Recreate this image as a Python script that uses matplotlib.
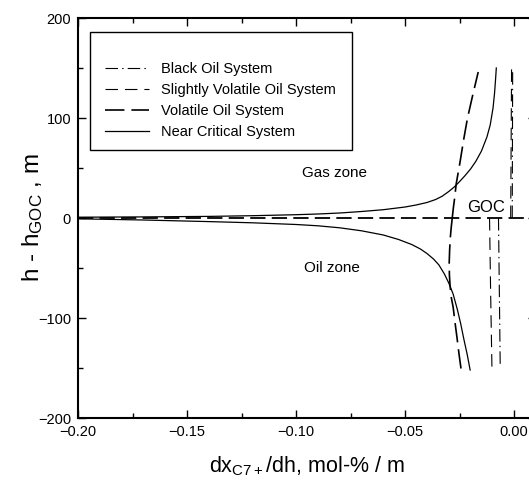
import matplotlib
matplotlib.use("Agg")
import matplotlib.pyplot as plt
from matplotlib.lines import Line2D
from matplotlib.patches import Rectangle
from matplotlib.ticker import MultipleLocator

plt.rcParams['font.family'] = ['Liberation Sans', 'DejaVu Sans']
plt.rcParams['mathtext.fontset'] = 'custom'
plt.rcParams['mathtext.rm'] = 'Liberation Sans'
plt.rcParams['mathtext.it'] = 'Liberation Sans'
plt.rcParams['lines.scale_dashes'] = False

# ── data (x: dx/dh mol-%/m, h: h - hGOC in m) ─────────────────────────────────
near_gas_x = [-0.200, -0.170, -0.140, -0.120, -0.100, -0.090, -0.080, -0.070, -0.060,
              -0.050, -0.045, -0.040, -0.036, -0.033, -0.030, -0.0275, -0.025, -0.0225,
              -0.020, -0.0175, -0.015, -0.0125, -0.0110, -0.0097, -0.0090, -0.0085, -0.0082]
near_gas_h = [0.8, 1.1, 1.6, 2.3, 3.3, 4.0, 5.0, 6.5, 8.3,
              11.0, 13.0, 15.5, 18.5, 21.8, 26.5, 31, 36.5, 42.5,
              49, 57, 67, 81, 93, 110, 125, 140, 150]

near_oil_x = [-0.200, -0.170, -0.140, -0.120, -0.100, -0.090, -0.080, -0.070, -0.060,
              -0.053, -0.047, -0.043, -0.040, -0.037, -0.0345, -0.032, -0.030, -0.028,
              -0.026, -0.0245, -0.023, -0.0215, -0.0202]
near_oil_h = [-0.8, -2.0, -3.6, -4.8, -6.5, -7.8, -9.8, -12.8, -17,
              -21.5, -26.5, -31, -35.5, -41, -47, -56, -65, -76,
              -92, -106, -122, -137, -152]

vol_gas_x = [-0.0284, -0.0279, -0.0273, -0.0266, -0.0249, -0.0232, -0.0214, -0.0190, -0.0165]
vol_gas_h = [0, 10, 20, 34, 55, 78, 100, 123, 146]
vol_oil_x = [-0.0284, -0.0289, -0.0293, -0.0296, -0.0298, -0.0297, -0.0294, -0.0288,
             -0.0280, -0.0271, -0.0262, -0.0253, -0.0243]
vol_oil_h = [0, -10, -20, -32, -45, -57, -68, -80, -89, -105, -120, -136, -152]

slight_gas_x = [-0.0016, -0.0014, -0.0012]
slight_gas_h = [0, 75, 150]
slight_oil_x = [-0.0113, -0.0108, -0.0102]
slight_oil_h = [0, -75, -150]

black_gas_x = [-0.0009, -0.0008, -0.0007]
black_gas_h = [0, 75, 150]
black_oil_x = [-0.0072, -0.0068, -0.0064]
black_oil_h = [0, -75, -150]

labels = ['Black Oil System', 'Slightly Volatile Oil System',
          'Volatile Oil System', 'Near Critical System']

# ── styles ───────────────────────────────────────────────────────────────────
black_style = dict(color='k', lw=0.8, dashes=(9, 3, 1, 3))
slight_style = dict(color='k', lw=0.8, dashes=(9, 5))
vol_style = dict(color='k', lw=1.2, dashes=(14, 5))
near_style = dict(color='k', lw=0.9, linestyle='-')

fig = plt.figure(figsize=(5.29, 4.82), dpi=100)
ax = fig.add_axes([78 / 529, 64 / 482, 458 / 529, 400 / 482])

ax.axhline(0, color='k', lw=1.3, dashes=(11, 4.5))

ax.plot(black_gas_x, black_gas_h, **black_style)
ax.plot(black_oil_x, black_oil_h, **black_style)
ax.plot(slight_gas_x, slight_gas_h, **slight_style)
ax.plot(slight_oil_x, slight_oil_h, **slight_style)
ax.plot(vol_gas_x, vol_gas_h, **vol_style)
ax.plot(vol_oil_x, vol_oil_h, **vol_style)
ax.plot(near_gas_x, near_gas_h, **near_style)
ax.plot(near_oil_x, near_oil_h, **near_style)

ax.set_xlim(-0.20, 0.01)
ax.set_ylim(-200, 200)
ax.xaxis.set_major_locator(MultipleLocator(0.05))
ax.xaxis.set_minor_locator(MultipleLocator(0.025))
ax.yaxis.set_major_locator(MultipleLocator(100))
ax.yaxis.set_minor_locator(MultipleLocator(50))
ax.tick_params(which='both', direction='in', top=True, right=True, labelsize=10.5, width=1.0)
ax.tick_params(which='major', length=6)
ax.tick_params(which='minor', length=3.5)
ax.tick_params(axis='x', pad=5)
ax.tick_params(axis='y', pad=5)
for sp in ax.spines.values():
    sp.set_linewidth(1.5)

ax.set_xlabel('dx$_{\\mathrm{C7+}}$/dh, mol-% / m', fontsize=15.5)
ax.set_ylabel('h - h$_{\\mathrm{GOC}}$ , m', fontsize=17.5)
ax.xaxis.set_label_coords(0.5, -0.09)
ax.yaxis.set_label_coords(-0.072, 0.5)

ax.text(-0.0826, 45, 'Gas zone', fontsize=11, ha='center', va='center')
ax.text(-0.0835, -50, 'Oil zone', fontsize=11, ha='center', va='center')
ax.text(-0.0128, 10.5, 'GOC', fontsize=12, ha='center', va='center')

# legend with its own frame (extra room at the top, as in the original)
ax.add_patch(Rectangle((12 / 458, 268 / 400), 262 / 458, 118 / 400, transform=ax.transAxes,
                       fill=False, lw=1.0, ec='k', zorder=5))
handles = [Line2D([], [], **black_style), Line2D([], [], **slight_style),
           Line2D([], [], **vol_style), Line2D([], [], **near_style)]
ax.legend(handles, labels, loc='upper left', bbox_to_anchor=(0.058, 0.8895), frameon=False,
          fontsize=10.5, handlelength=3.06, handletextpad=0.82, labelspacing=0.48,
          borderaxespad=0, borderpad=0)

fig.savefig('out.png', dpi=100)
